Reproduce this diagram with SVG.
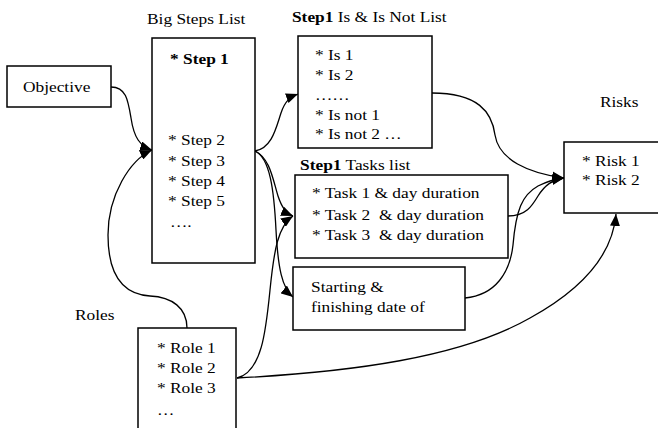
<svg xmlns="http://www.w3.org/2000/svg" width="658" height="428" viewBox="0 0 658 428">
<style>
  .box { fill: #ffffff; stroke: #000000; stroke-width: 1.5; }
  text { font-family: 'Liberation Serif', 'Times New Roman', Times, 'DejaVu Serif', serif; font-size: 15.5px; fill: #000000; white-space: pre; }
  .b { font-weight: bold; }
  .c { fill: none; stroke: #000000; stroke-width: 1.3; }
</style>
<defs>
  <marker id="arr" viewBox="0 0 12 10" refX="12" refY="5" markerWidth="12" markerHeight="10" orient="auto" markerUnits="userSpaceOnUse">
    <path d="M0,0 L12,5 L0,10 z" fill="#000000"/>
  </marker>
</defs>
<rect x="0" y="0" width="658" height="428" fill="#ffffff"/>

<g id="connectors">
  <path class="c" d="M111,87 C126,87 128,100 131,118 C134,138 140,146 152,150" marker-end="url(#arr)"/>
  <path class="c" d="M187,328 C187,308 172,297 150,296 C118,294 108,268 108,235 C108,195 130,160 152,150" marker-end="url(#arr)"/>
  <path class="c" d="M255,151 C272,148 276,128 281,113 C285,101 290,97 298,94" marker-end="url(#arr)"/>
  <path class="c" d="M255,151 C270,158 273,180 278,196 C282,208 286,213 293,216" marker-end="url(#arr)"/>
  <path class="c" d="M255,151 C270,158 274,190 276,230 C278,268 282,288 293,297" marker-end="url(#arr)"/>
  <path class="c" d="M237,378 C262,372 266,330 270,290 C274,250 278,226 293,216" marker-end="url(#arr)"/>
  <path class="c" d="M237,378 C350,372 460,358 530,318 C590,285 613,250 616,214" marker-end="url(#arr)"/>
  <path class="c" d="M432,93 C478,93 492,112 495,135 C499,160 528,173 564,178" marker-end="url(#arr)"/>
  <path class="c" d="M508,216 C526,216 532,206 538,196 C545,185 552,180 564,178" marker-end="url(#arr)"/>
  <path class="c" d="M465,298 C496,295 510,272 513,245 C516,210 522,195 538,186 C548,181 556,179 564,178" marker-end="url(#arr)"/>
</g>

<g id="objective">
  <rect class="box" x="7" y="66" width="104" height="41"/>
  <text font-family="Liberation Serif, serif" transform="scale(1.12,1)" x="20.5" y="92">Objective</text>
</g>

<g id="big-steps">
  <text transform="scale(1.12,1)" x="131.25" y="24">Big Steps List</text>
  <rect class="box" x="152" y="38" width="103" height="225"/>
  <text class="b" transform="scale(1.12,1)" x="151.8" y="64">* Step 1</text>
  <text transform="scale(1.12,1)" x="150" y="145">* Step 2</text>
  <text transform="scale(1.12,1)" x="150" y="166">* Step 3</text>
  <text transform="scale(1.12,1)" x="150" y="186">* Step 4</text>
  <text transform="scale(1.12,1)" x="150" y="206">* Step 5</text>
  <text transform="scale(1.12,1)" x="151.8" y="227">….</text>
</g>

<g id="is-list">
  <text transform="scale(1.12,1)" x="260.7" y="22"><tspan class="b">Step1</tspan> Is &amp; Is Not List</text>
  <rect class="box" x="298" y="36" width="134" height="112"/>
  <text transform="scale(1.12,1)" x="281.25" y="60">* Is 1</text>
  <text transform="scale(1.12,1)" x="281.25" y="80">* Is 2</text>
  <text transform="scale(1.12,1)" x="281.25" y="100">……</text>
  <text transform="scale(1.12,1)" x="281.25" y="120">* Is not 1</text>
  <text transform="scale(1.12,1)" x="281.25" y="139">* Is not 2 …</text>
</g>

<g id="tasks-list">
  <text transform="scale(1.12,1)" x="267.9" y="170"><tspan class="b">Step1</tspan> Tasks list</text>
  <rect class="box" x="295" y="175" width="213" height="83"/>
  <text transform="scale(1.12,1)" x="278.6" y="198">* Task 1 &amp; day duration</text>
  <text transform="scale(1.12,1)" x="278.6" y="220">* Task 2  &amp; day duration</text>
  <text transform="scale(1.12,1)" x="278.6" y="240">* Task 3  &amp; day duration</text>
</g>

<g id="dates">
  <rect class="box" x="293" y="267" width="172" height="63"/>
  <text transform="scale(1.12,1)" x="277.7" y="292">Starting &amp;</text>
  <text transform="scale(1.12,1)" x="277.7" y="312">finishing date of</text>
</g>

<g id="risks">
  <text transform="scale(1.12,1)" x="535.7" y="107">Risks</text>
  <rect class="box" x="564" y="142" width="110" height="71"/>
  <text transform="scale(1.12,1)" x="519.6" y="166">* Risk 1</text>
  <text transform="scale(1.12,1)" x="519.6" y="185">* Risk 2</text>
</g>

<g id="roles">
  <text transform="scale(1.12,1)" x="67" y="320">Roles</text>
  <rect class="box" x="138" y="328" width="98" height="110"/>
  <text transform="scale(1.12,1)" x="140.2" y="353">* Role 1</text>
  <text transform="scale(1.12,1)" x="140.2" y="373">* Role 2</text>
  <text transform="scale(1.12,1)" x="140.2" y="393">* Role 3</text>
  <text transform="scale(1.12,1)" x="140.2" y="415">…</text>
</g>
</svg>
